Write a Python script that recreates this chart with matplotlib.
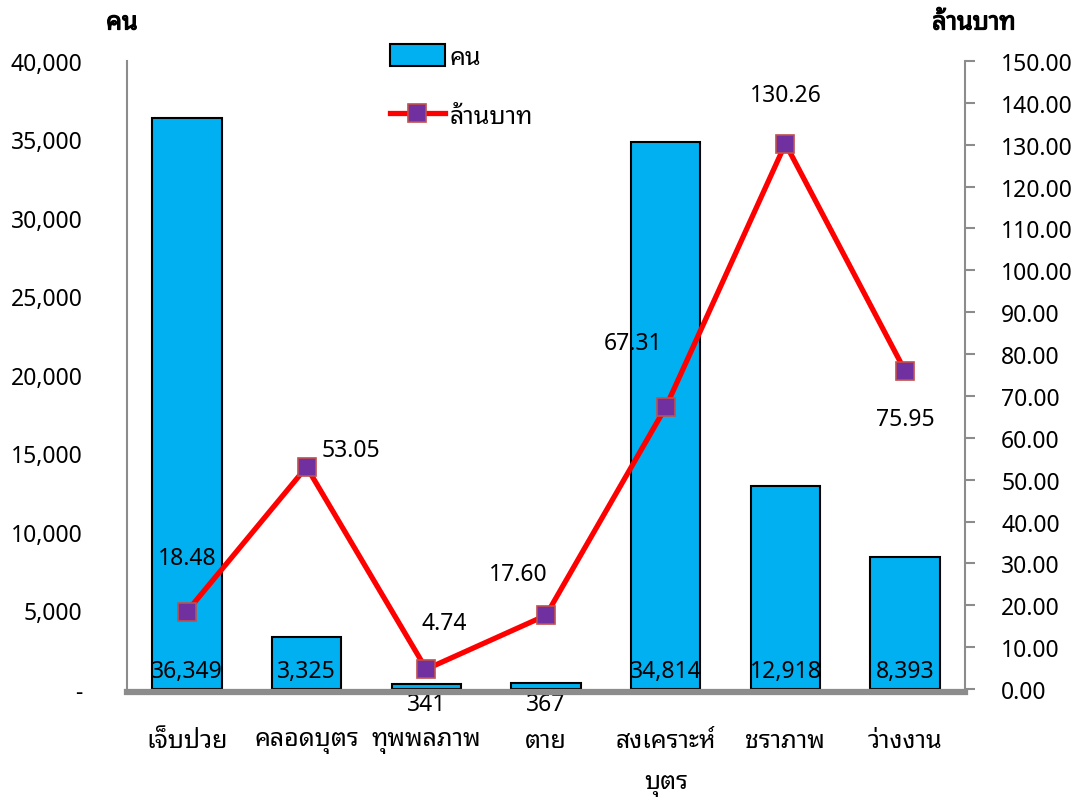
#!/usr/bin/env python3
# -*- coding=utf-8 -*-

import matplotlib
matplotlib.use("Agg")
import numpy as np
from matplotlib import pyplot as plt
from matplotlib import patheffects as pe
from matplotlib.lines import Line2D
from matplotlib.patches import Patch
from matplotlib.ticker import FuncFormatter, MultipleLocator

categories = ["เจ็บป่วย", "คลอดบุตร", "ทุพพลภาพ", "ตาย", "สงเคราะห์\nบุตร", "ชราภาพ", "ว่างงาน"]
persons = [36349, 3325, 341, 367, 34814, 12918, 8393]
million_baht = [18.48, 53.05, 4.74, 17.60, 67.31, 130.26, 75.95]

# label offsets for the line values (pixels, x right / y up)
line_label_offsets = [(0, 54), (44, 17), (18, 46), (-28, 41), (-33, 64), (0, 49), (0, -48)]

plt.rcParams['font.family'] = ['Noto Sans Thai Looped', 'DejaVu Sans']
FS = 16.5   # numbers
FS_TH = 18  # thai text
PX = 0.72   # points per pixel at dpi 100
GREY = '#8c8c8c'


def main():
    fig = plt.figure(figsize=(10.8, 8.03), dpi=100)
    ax = fig.add_axes([127 / 1080, 1 - 690 / 803, (965 - 127) / 1080, (690 - 62) / 803])
    x = np.arange(len(categories))

    ax.bar(x, persons, width=0.58, color='#00B0F0', edgecolor='black', linewidth=1.5, zorder=2)
    ax.set_xlim(-0.5, len(categories) - 0.5)
    ax.set_ylim(0, 40000)
    ax.yaxis.set_major_locator(MultipleLocator(5000))
    ax.yaxis.set_major_formatter(FuncFormatter(lambda v, p: '-' if v == 0 else f'{int(v):,}'))
    ax.tick_params(axis='y', length=0, pad=32, labelsize=FS)
    for s in ['top', 'right']:
        ax.spines[s].set_visible(False)
    ax.spines['left'].set_color(GREY)
    ax.spines['left'].set_linewidth(1.5)
    ax.spines['bottom'].set_color(GREY)
    ax.spines['bottom'].set_linewidth(4.5)
    ax.spines['bottom'].set_position(('outward', 2.5))
    ax.spines['bottom'].set_zorder(5)

    for i, v in enumerate(persons):
        dy = 18 if v > 1000 else -15
        ax.annotate(f'{v:,}', (i, 0), xytext=(0, dy * PX), textcoords='offset points',
                    ha='center', va='center', fontsize=FS, color='black', zorder=3)

    ax2 = ax.twinx()
    ax2.plot(x, million_baht, color='#FF0000', linewidth=3.8, marker='s', markersize=13,
             markerfacecolor='#7030A0', markeredgecolor='#C0504D', markeredgewidth=1.2, zorder=4)
    ax2.set_ylim(0, 150)
    ax2.yaxis.set_major_locator(MultipleLocator(10))
    ax2.yaxis.set_major_formatter(FuncFormatter(lambda v, p: f'{v:.2f}'))
    ax2.tick_params(axis='y', length=7, width=1.5, color=GREY, pad=19, labelsize=FS)
    for s in ['top', 'left', 'bottom']:
        ax2.spines[s].set_visible(False)
    ax2.spines['right'].set_color(GREY)
    ax2.spines['right'].set_linewidth(1.5)

    for i, v in enumerate(million_baht):
        ox, oy = line_label_offsets[i]
        ax2.annotate(f'{v:.2f}', (i, v), xytext=(ox * PX, oy * PX), textcoords='offset points',
                     ha='center', va='center', fontsize=FS, color='black')

    # category labels (set after twinx so the line spacing sticks)
    ax.set_xticks(x)
    ax.tick_params(axis='x', length=0, pad=25.5, labelsize=FS_TH)
    ax.set_xticklabels(categories, linespacing=1.85)
    fig.canvas.draw()
    for t in ax.get_xticklabels():
        t.set_linespacing(1.85)

    bold = [pe.withStroke(linewidth=0.9, foreground='black')]
    fig.text(122 / 1080, 1 - 24 / 803, 'คน', ha='center', va='center', fontsize=FS_TH,
             path_effects=bold)
    fig.text(974 / 1080, 1 - 24 / 803, 'ล้านบาท', ha='center', va='center', fontsize=FS_TH,
             path_effects=bold)

    handles = [
        Patch(facecolor='#00B0F0', edgecolor='black', linewidth=1.5),
        Line2D([0], [0], color='#FF0000', linewidth=3.8, marker='s', markersize=13,
               markerfacecolor='#7030A0', markeredgecolor='#C0504D', markeredgewidth=1.2),
    ]
    fig.legend(handles, ['คน', 'ล้านบาท'], loc='upper left', bbox_to_anchor=(385 / 1080, 1 - 40 / 803),
               frameon=False, fontsize=FS_TH, handlelength=2.2, handleheight=1.0, handletextpad=0.2,
               labelspacing=1.35, numpoints=1, borderaxespad=0, borderpad=0.2)

    fig.savefig('out.png', dpi=100)


if "__main__" == __name__:
    main()
